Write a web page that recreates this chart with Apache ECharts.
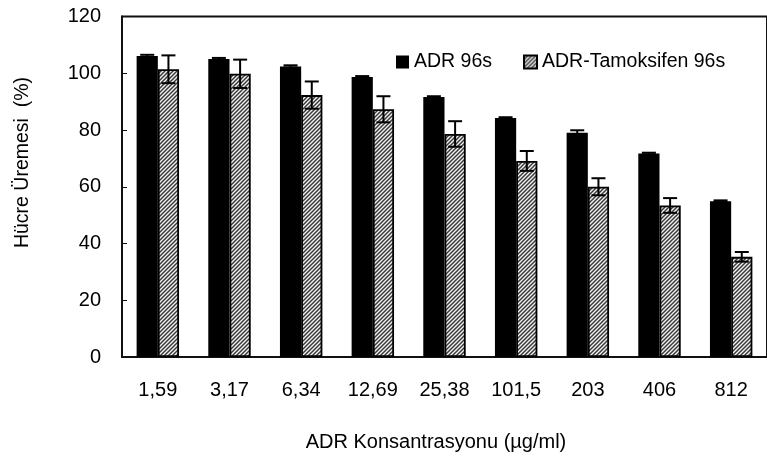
<!DOCTYPE html>
<html>
<head>
<meta charset="utf-8">
<script src="https://cdn.jsdelivr.net/npm/echarts@6/dist/echarts.min.js"></script>
<style>
  html, body { margin: 0; padding: 0; background: #fff; }
  #chart { width: 767px; height: 462px; }
</style>
</head>
<body>
<div id="chart"></div>
<script>
// Concentrations (µg/ml) on the category axis
const categories = ['1,59', '3,17', '6,34', '12,69', '25,38', '101,5', '203', '406', '812'];

// Cell growth (%) after 96 h
const adrValues = [106.1, 105.0, 102.4, 98.7, 91.6, 84.2, 79.0, 71.7, 54.9];
const adrErrors = [0.4, 0.4, 0.4, 0.3, 0.3, 0.3, 0.9, 0.3, 0.3];

const adrTamValues = [101.4, 99.8, 92.3, 87.3, 78.6, 69.1, 60.0, 53.4, 35.3];
const adrTamErrors = [4.9, 5.0, 4.8, 4.6, 4.5, 3.5, 3.0, 2.6, 1.7];

const yTicks = { min: 0, max: 120, step: 20 };

const FONT = 'Liberation Sans, Arial, sans-serif';
const BAR_FRAC = 0.296;

// Diagonal hatch fill for the tamoxifen series
function hatchPattern() {
  const c = document.createElement('canvas');
  const s = 4;
  c.width = s; c.height = s;
  const ctx = c.getContext('2d');
  ctx.fillStyle = '#f4f4f4';
  ctx.fillRect(0, 0, s, s);
  ctx.strokeStyle = '#3a3a3a';
  ctx.lineWidth = 1.5;
  ctx.beginPath();
  ctx.moveTo(-1, s + 1); ctx.lineTo(s + 1, -1);
  ctx.moveTo(-1, 1); ctx.lineTo(1, -1);
  ctx.moveTo(s - 1, s + 1); ctx.lineTo(s + 1, s - 1);
  ctx.stroke();
  return c;
}

function errorData(values, errors) {
  return values.map((v, i) => [i, v - errors[i], v + errors[i]]);
}

function errorRenderer(side) {
  return function (params, api) {
    const idx = api.value(0);
    const band = api.size([1, 0])[0];
    const shift = side * band * BAR_FRAC / 2;
    const lo = api.coord([idx, api.value(1)]);
    const hi = api.coord([idx, api.value(2)]);
    const x = lo[0] + shift;
    const cap = 7;
    const style = { stroke: '#000', lineWidth: 2, fill: null };
    return {
      type: 'group',
      children: [
        { type: 'line', shape: { x1: x, y1: hi[1], x2: x, y2: lo[1] }, style },
        { type: 'line', shape: { x1: x - cap, y1: hi[1], x2: x + cap, y2: hi[1] }, style },
        { type: 'line', shape: { x1: x - cap, y1: lo[1], x2: x + cap, y2: lo[1] }, style }
      ]
    };
  };
}

const chart = echarts.init(document.getElementById('chart'));

chart.setOption({
  animation: false,
  backgroundColor: '#fff',
  textStyle: { fontFamily: FONT },
  grid: {
    left: 122, top: 16.5, width: 652, height: 340.5,
    show: true, borderColor: '#111', borderWidth: 2, backgroundColor: 'transparent'
  },
  legend: {
    left: 396, top: 52, padding: 0,
    itemWidth: 13, itemHeight: 13, itemGap: 31,
    icon: 'rect',
    textStyle: { fontFamily: FONT, fontSize: 19.5, color: '#000' },
    data: ['ADR 96s', 'ADR-Tamoksifen 96s']
  },
  xAxis: {
    type: 'category',
    data: categories,
    axisLine: { lineStyle: { color: '#111', width: 2 } },
    axisTick: { inside: true, length: 5, lineStyle: { color: '#111', width: 1 } },
    axisLabel: { color: '#000', fontSize: 20, fontFamily: FONT, margin: 23 },
    splitLine: { show: false }
  },
  yAxis: {
    type: 'value',
    min: yTicks.min, max: yTicks.max, interval: yTicks.step,
    axisLine: { show: true, lineStyle: { color: '#111', width: 2 } },
    axisTick: { show: true, inside: true, length: 5, lineStyle: { color: '#111', width: 1 } },
    axisLabel: { color: '#000', fontSize: 20, fontFamily: FONT, margin: 21 },
    splitLine: { show: false }
  },
  graphic: [
    {
      type: 'text', x: 23, y: 162.5, rotation: Math.PI / 2,
      style: {
        text: 'Hücre Üremesi  (%)', font: '19.5px ' + FONT, fill: '#000',
        align: 'center', verticalAlign: 'middle'
      }
    },
    {
      type: 'text', x: 436, y: 442,
      style: {
        text: 'ADR Konsantrasyonu (µg/ml)', font: '20px ' + FONT, fill: '#000',
        align: 'center', verticalAlign: 'middle'
      }
    }
  ],
  series: [
    {
      name: 'ADR 96s',
      type: 'bar',
      data: adrValues,
      barWidth: (BAR_FRAC * 100) + '%',
      barGap: '0%',
      itemStyle: { color: '#000', borderColor: '#000', borderWidth: 0 }
    },
    {
      name: 'ADR-Tamoksifen 96s',
      type: 'bar',
      data: adrTamValues,
      barWidth: (BAR_FRAC * 100) + '%',
      barGap: '0%',
      itemStyle: {
        color: { image: hatchPattern(), repeat: 'repeat' },
        borderColor: '#000', borderWidth: 1.8
      }
    },
    {
      type: 'custom',
      z: 5,
      renderItem: errorRenderer(-1),
      data: errorData(adrValues, adrErrors),
      encode: { x: 0, y: [1, 2] },
      silent: true
    },
    {
      type: 'custom',
      z: 5,
      renderItem: errorRenderer(1),
      data: errorData(adrTamValues, adrTamErrors),
      encode: { x: 0, y: [1, 2] },
      silent: true
    }
  ]
});
</script>
</body>
</html>
